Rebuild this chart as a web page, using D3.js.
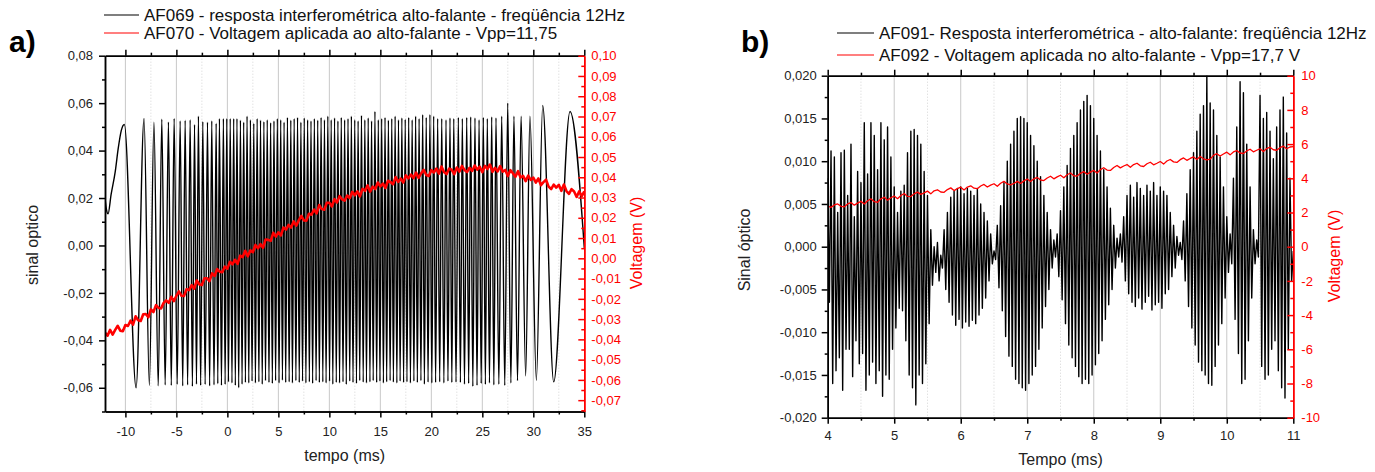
<!DOCTYPE html>
<html>
<head>
<meta charset="utf-8">
<script src="https://cdn.jsdelivr.net/npm/d3@7"></script>
<style>
body { margin: 0; background: #fff; }
svg text { font-family: "Liberation Sans", Arial, sans-serif; }
</style>
</head>
<body>
<svg id="chart" width="1375" height="472"></svg>
<script>
// ---------- painel a) ----------
// extremos do sinal interferometrico AF069 [tempo ms, sinal]
var sinalA = [
  [-12.00, 0.0200], [-11.85, 0.0150], [-11.70, 0.0133], [-11.40, 0.0215], [-11.00, 0.0310], [-10.70, 0.0410], [-10.40, 0.0485], [-10.10, 0.0510],
  [-8.95, -0.0600], [-8.17, 0.0535], [-7.65, -0.0590], [-7.20, 0.0520], [-6.78, -0.0592], [-6.43, 0.0532], [-6.10, -0.0588], [-5.78, 0.0520],
  [-5.50, -0.0590], [-5.22, 0.0535], [-4.92, -0.0585], [-4.63, 0.0525], [-4.38, -0.0592], [-4.14, 0.0528], [-3.90, -0.0588], [-3.65, 0.0530],
  [-3.43, -0.0594], [-3.22, 0.0510], [-3.03, -0.0585], [-2.84, 0.0545], [-2.62, -0.0590], [-2.41, 0.0522], [-2.18, -0.0586], [-1.95, 0.0520],
  [-1.74, -0.0592], [-1.53, 0.0525], [-1.31, -0.0588], [-1.10, 0.0515], [-0.94, -0.0583], [-0.78, 0.0535], [-0.58, -0.0590], [-0.39, 0.0535],
  [-0.22, -0.0586], [-0.06, 0.0535], [0.11, -0.0575], [0.28, 0.0535], [0.45, -0.0580], [0.62, 0.0535], [0.78, -0.0590], [0.94, 0.0535],
  [1.11, -0.0600], [1.28, 0.0528], [1.44, -0.0585], [1.60, 0.0520], [1.77, -0.0578], [1.93, 0.0545], [2.10, -0.0580], [2.26, 0.0530],
  [2.42, -0.0572], [2.59, 0.0515], [2.75, -0.0580], [2.92, 0.0535], [3.09, -0.0575], [3.25, 0.0528], [3.42, -0.0585], [3.58, 0.0522],
  [3.74, -0.0570], [3.91, 0.0530], [4.08, -0.0578], [4.24, 0.0518], [4.41, -0.0582], [4.57, 0.0525], [4.73, -0.0570], [4.90, 0.0535],
  [5.07, -0.0580], [5.23, 0.0530], [5.40, -0.0568], [5.56, 0.0520], [5.72, -0.0578], [5.89, 0.0540], [6.06, -0.0575], [6.22, 0.0528],
  [6.38, -0.0580], [6.55, 0.0535], [6.72, -0.0570], [6.88, 0.0540], [7.05, -0.0578], [7.21, 0.0520], [7.37, -0.0572], [7.54, 0.0538],
  [7.70, -0.0580], [7.87, 0.0530], [8.04, -0.0575], [8.20, 0.0525], [8.36, -0.0582], [8.53, 0.0535], [8.70, -0.0570], [8.86, 0.0528],
  [9.02, -0.0578], [9.19, 0.0540], [9.36, -0.0575], [9.52, 0.0530], [9.68, -0.0580], [9.85, 0.0545], [10.02, -0.0572], [10.18, 0.0530],
  [10.34, -0.0585], [10.51, 0.0538], [10.68, -0.0578], [10.84, 0.0525], [11.00, -0.0580], [11.17, 0.0540], [11.34, -0.0575], [11.50, 0.0530],
  [11.66, -0.0586], [11.83, 0.0535], [12.00, -0.0572], [12.16, 0.0545], [12.32, -0.0578], [12.49, 0.0530], [12.66, -0.0582], [12.82, 0.0525],
  [12.98, -0.0570], [13.15, 0.0548], [13.32, -0.0576], [13.48, 0.0530], [13.64, -0.0580], [13.81, 0.0538], [13.98, -0.0575], [14.14, 0.0525],
  [14.30, -0.0570], [14.47, 0.0565], [14.64, -0.0578], [14.80, 0.0530], [14.96, -0.0572], [15.13, 0.0535], [15.30, -0.0580], [15.46, 0.0540],
  [15.62, -0.0575], [15.79, 0.0528], [15.96, -0.0570], [16.12, 0.0535], [16.28, -0.0576], [16.45, 0.0545], [16.62, -0.0580], [16.78, 0.0530],
  [16.94, -0.0572], [17.11, 0.0538], [17.28, -0.0578], [17.44, 0.0532], [17.61, -0.0575], [17.78, 0.0540], [17.95, -0.0580], [18.12, 0.0530],
  [18.29, -0.0572], [18.46, 0.0545], [18.63, -0.0578], [18.80, 0.0535], [18.98, -0.0570], [19.15, 0.0552], [19.32, -0.0585], [19.50, 0.0540],
  [19.68, -0.0576], [19.86, 0.0552], [20.05, -0.0580], [20.23, 0.0545], [20.42, -0.0578], [20.62, 0.0535], [20.82, -0.0575], [21.02, 0.0535],
  [21.23, -0.0580], [21.44, 0.0530], [21.63, -0.0572], [21.83, 0.0538], [22.01, -0.0578], [22.20, 0.0535], [22.42, -0.0576], [22.65, 0.0540],
  [22.85, -0.0578], [23.04, 0.0535], [23.25, -0.0585], [23.47, 0.0540], [23.66, -0.0582], [23.86, 0.0542], [24.07, -0.0594], [24.28, 0.0538],
  [24.48, -0.0590], [24.68, 0.0530], [24.89, -0.0582], [25.10, 0.0540], [25.30, -0.0586], [25.49, 0.0535], [25.70, -0.0580], [25.92, 0.0542],
  [26.13, -0.0588], [26.34, 0.0538], [26.62, -0.0585], [26.90, 0.0545], [27.20, -0.0590], [27.49, 0.0600], [27.80, -0.0580], [28.10, 0.0545],
  [28.45, -0.0570], [28.80, 0.0545], [29.25, -0.0550], [29.67, 0.0545], [30.30, -0.0568], [30.92, 0.0590], [32.00, -0.0575], [33.60, 0.0565],
  [35.00, -0.0010]
];

// voltagem AF070 (V), amostras a cada 0,25 ms a partir de -12 ms
var voltA_t0 = -12, voltA_dt = 0.25;
var voltA = [
  -0.0367, -0.0382, -0.0353, -0.0377, -0.0353, -0.0333, -0.0357, -0.0360, -0.0329, -0.0334, -0.0308, -0.0327,
  -0.0286, -0.0306, -0.0309, -0.0276, -0.0275, -0.0291, -0.0252, -0.0265, -0.0231, -0.0245, -0.0247, -0.0220,
  -0.0208, -0.0220, -0.0190, -0.0211, -0.0185, -0.0163, -0.0185, -0.0186, -0.0152, -0.0157, -0.0132, -0.0150,
  -0.0109, -0.0129, -0.0132, -0.0098, -0.0098, -0.0113, -0.0074, -0.0087, -0.0053, -0.0066, -0.0069, -0.0041,
  -0.0051, -0.0017, -0.0030, -0.0007, -0.0027, 0.0013, 0.0006, 0.0037, 0.0010, 0.0039, 0.0030, 0.0066,
  0.0050, 0.0070, 0.0052, 0.0093, 0.0091, 0.0086, 0.0126, 0.0107, 0.0128, 0.0113, 0.0152, 0.0142,
  0.0165, 0.0152, 0.0182, 0.0161, 0.0187, 0.0210, 0.0187, 0.0186, 0.0220, 0.0215, 0.0241, 0.0222,
  0.0263, 0.0243, 0.0240, 0.0274, 0.0274, 0.0256, 0.0292, 0.0276, 0.0307, 0.0291, 0.0285, 0.0310,
  0.0297, 0.0328, 0.0311, 0.0330, 0.0306, 0.0343, 0.0333, 0.0360, 0.0329, 0.0354, 0.0342, 0.0374,
  0.0355, 0.0369, 0.0347, 0.0383, 0.0376, 0.0366, 0.0401, 0.0377, 0.0393, 0.0374, 0.0409, 0.0395,
  0.0413, 0.0396, 0.0423, 0.0397, 0.0419, 0.0437, 0.0411, 0.0406, 0.0435, 0.0424, 0.0443, 0.0418,
  0.0453, 0.0425, 0.0416, 0.0443, 0.0437, 0.0415, 0.0448, 0.0428, 0.0456, 0.0436, 0.0426, 0.0447,
  0.0431, 0.0458, 0.0438, 0.0452, 0.0425, 0.0456, 0.0441, 0.0463, 0.0427, 0.0447, 0.0429, 0.0455,
  0.0428, 0.0436, 0.0406, 0.0435, 0.0420, 0.0403, 0.0430, 0.0399, 0.0407, 0.0381, 0.0408, 0.0387,
  0.0398, 0.0374, 0.0394, 0.0361, 0.0376, 0.0388, 0.0354, 0.0342, 0.0364, 0.0349, 0.0363, 0.0333,
  0.0364, 0.0332, 0.0318, 0.0341, 0.0330, 0.0303, 0.0331, 0.0307, 0.0330
];

var xTicksA = [-10, -5, 0, 5, 10, 15, 20, 25, 30, 35];
var xMinorA = [-7.5, -2.5, 2.5, 7.5, 12.5, 17.5, 22.5, 27.5, 32.5];
var gridA = [-10, -5, 0, 5, 10, 15, 20, 25, 30];
var yTicksA = [-0.06, -0.04, -0.02, 0, 0.02, 0.04, 0.06, 0.08];
var yMinorA = [-0.07, -0.05, -0.03, -0.01, 0.01, 0.03, 0.05, 0.07];
var y2TicksA = [-0.07, -0.06, -0.05, -0.04, -0.03, -0.02, -0.01, 0, 0.01, 0.02, 0.03, 0.04, 0.05, 0.06, 0.07, 0.08, 0.09, 0.10];
var y2MinorA = [-0.075, -0.065, -0.055, -0.045, -0.035, -0.025, -0.015, -0.005, 0.005, 0.015, 0.025, 0.035, 0.045, 0.055, 0.065, 0.075, 0.085, 0.095];

// ---------- painel b) ----------
// AF091: sinal optico, extremos a cada 0,025 ms a partir de 4 ms
var sinalB_t0 = 4, sinalB_dt = 0.025;
var sinalB = [
  0.0080, -0.0065, 0.0112, -0.0160,   0.0105, -0.0145, 0.0040, -0.0130,   0.0110, -0.0168, 0.0113, -0.0120,
  0.0060, -0.0120, 0.0120, -0.0152,   0.0035, -0.0110, 0.0088, -0.0137,   0.0075, -0.0125, 0.0145, -0.0168,
  0.0085, -0.0150, 0.0145, -0.0135,   0.0130, -0.0160, 0.0090, -0.0145,   0.0145, -0.0175, 0.0125, -0.0150,
  0.0140, -0.0155, 0.0105, -0.0120,   0.0070, -0.0095, 0.0040, -0.0072,   0.0065, -0.0075, 0.0072, -0.0110,
  0.0110, -0.0150, 0.0135, -0.0165,   0.0137, -0.0185, 0.0130, -0.0150,   0.0120, -0.0160, 0.0088, -0.0137,
  0.0060, -0.0090, 0.0020, -0.0045,   0.0000, -0.0030, 0.0005, -0.0040,  -0.0010, -0.0025, 0.0020, -0.0050,
  0.0040, -0.0065, 0.0058, -0.0080,   0.0065, -0.0092, 0.0068, -0.0085,   0.0070, -0.0095, 0.0062, -0.0088,
  0.0068, -0.0093, 0.0065, -0.0086,   0.0060, -0.0090, 0.0068, -0.0080,   0.0050, -0.0072, 0.0040, -0.0060,
  0.0030, -0.0040, 0.0015, -0.0020,  -0.0005, -0.0015, 0.0025, -0.0048,   0.0048, -0.0075, 0.0075, -0.0105,
  0.0100, -0.0128, 0.0120, -0.0140,   0.0135, -0.0155, 0.0150, -0.0160,   0.0152, -0.0165, 0.0150, -0.0168,
  0.0145, -0.0160, 0.0130, -0.0150,   0.0118, -0.0140, 0.0100, -0.0120,   0.0082, -0.0095, 0.0060, -0.0070,
  0.0040, -0.0050, 0.0020, -0.0025,   0.0008, -0.0012, 0.0015, -0.0035,   0.0042, -0.0062, 0.0070, -0.0090,
  0.0095, -0.0115, 0.0115, -0.0130,   0.0130, -0.0140, 0.0145, -0.0152,   0.0160, -0.0160, 0.0170, -0.0155,
  0.0177, -0.0160, 0.0165, -0.0150,   0.0150, -0.0138, 0.0130, -0.0125,   0.0112, -0.0110, 0.0090, -0.0085,
  0.0070, -0.0068, 0.0045, -0.0050,   0.0025, -0.0025, 0.0010, -0.0012,   0.0015, -0.0018, 0.0035, -0.0040,
  0.0060, -0.0055, 0.0072, -0.0065,   0.0058, -0.0070, 0.0075, -0.0060,   0.0068, -0.0073, 0.0060, -0.0065,
  0.0072, -0.0058, 0.0065, -0.0074,   0.0075, -0.0068, 0.0060, -0.0065,   0.0070, -0.0072, 0.0065, -0.0055,
  0.0060, -0.0050, 0.0040, -0.0035,   0.0025, -0.0025, 0.0012, -0.0010,   0.0005, -0.0015, 0.0030, -0.0040,
  0.0062, -0.0070, 0.0090, -0.0095,   0.0110, -0.0115, 0.0135, -0.0135,   0.0155, -0.0145, 0.0165, -0.0150,
  0.0201, -0.0160, 0.0168, -0.0162,   0.0160, -0.0140, 0.0130, -0.0115,   0.0105, -0.0090, 0.0070, -0.0060,
  0.0035, -0.0030, 0.0015, -0.0020,   0.0080, -0.0085, 0.0140, -0.0125,   0.0193, -0.0160, 0.0180, -0.0155,
  0.0120, -0.0110, 0.0070, -0.0060,   0.0020, -0.0020, 0.0008, -0.0012,   0.0177, -0.0140, 0.0150, -0.0155,
  0.0157, -0.0150, 0.0135, -0.0120,   0.0103, -0.0110, 0.0140, -0.0145,   0.0160, -0.0165, 0.0175, -0.0177,
  0.0133, -0.0120, 0.0080, -0.0040,  -0.0005
];

// AF092: voltagem (V), amostras a cada 0,05 ms a partir de 4 ms
var voltB_t0 = 4, voltB_dt = 0.05;
var voltB = [
  2.38, 2.30, 2.44, 2.50, 2.36, 2.33, 2.50, 2.58, 2.43, 2.55,
  2.65, 2.50, 2.69, 2.80, 2.63, 2.60, 2.80, 2.89, 2.72, 2.86,
  2.96, 2.81, 2.99, 3.11, 2.94, 2.93, 3.09, 3.19, 3.06, 3.15,
  3.25, 3.09, 3.27, 3.33, 3.20, 3.18, 3.34, 3.44, 3.28, 3.40,
  3.48, 3.32, 3.49, 3.56, 3.42, 3.39, 3.55, 3.64, 3.49, 3.60,
  3.68, 3.53, 3.71, 3.82, 3.67, 3.62, 3.70, 3.82, 3.70, 3.85,
  3.96, 3.81, 3.97, 4.05, 3.90, 3.87, 4.02, 4.12, 3.97, 4.08,
  4.18, 4.03, 4.21, 4.31, 4.15, 4.13, 4.29, 4.39, 4.24, 4.36,
  4.46, 4.31, 4.51, 4.62, 4.48, 4.46, 4.63, 4.75, 4.61, 4.72,
  4.80, 4.64, 4.80, 4.88, 4.73, 4.69, 4.85, 4.94, 4.79, 4.88,
  4.98, 4.83, 5.01, 5.10, 4.96, 4.93, 5.09, 5.19, 5.05, 5.16,
  5.25, 5.10, 5.28, 5.14, 5.08, 5.12, 5.34, 5.44, 5.30, 5.42,
  5.53, 5.37, 5.54, 5.62, 5.48, 5.45, 5.60, 5.70, 5.55, 5.64,
  5.73, 5.57, 5.74, 5.82, 5.67, 5.64, 5.79, 5.88, 5.73, 5.83,
  5.85
];

var xTicksB = [4, 5, 6, 7, 8, 9, 10, 11];
var xMinorB = [4.5, 5.5, 6.5, 7.5, 8.5, 9.5, 10.5];
var gridB = [5, 6, 7, 8, 9, 10];
var yTicksB = [-0.02, -0.015, -0.01, -0.005, 0, 0.005, 0.01, 0.015, 0.02];
var yMinorB = [-0.0175, -0.0125, -0.0075, -0.0025, 0.0025, 0.0075, 0.0125, 0.0175];
var y2TicksB = [-10, -8, -6, -4, -2, 0, 2, 4, 6, 8, 10];
var y2MinorB = [-9, -7, -5, -3, -1, 1, 3, 5, 7, 9];

var svg = d3.select("#chart");
var loc = d3.formatLocale({decimal: ",", thousands: ".", grouping: [3], currency: ["", ""], minus: "-"});
var FONT = "Liberation Sans, Arial, sans-serif";

function amostras(vals, t0, dt) {
  return vals.map(function (v, i) { return [t0 + i * dt, v]; });
}

function eixo(g, gen, tr, cor) {
  var a = g.append("g").attr("transform", tr).call(gen)
    .attr("font-family", FONT).attr("font-size", 13);
  a.select(".domain").attr("stroke", cor).attr("stroke-width", 1.5);
  a.selectAll(".tick line").attr("stroke", cor).attr("stroke-width", 1.5);
  a.selectAll(".tick text").attr("fill", cor === "#000" ? "#222" : cor);
  return a;
}

function painel(p) {
  var g = svg.append("g");
  var x = d3.scaleLinear().domain(p.xDom).range([p.left, p.right]);
  var y = d3.scaleLinear().domain(p.yDom).range([p.bottom, p.top]);
  var y2 = d3.scaleLinear().domain(p.y2Dom).range([p.bottom, p.top]);

  // grade vertical
  g.selectAll(null).data(p.xMinor).enter().append("line")
    .attr("x1", x).attr("x2", x).attr("y1", p.top).attr("y2", p.bottom)
    .attr("stroke", "#d4d4d4").attr("stroke-width", 1).attr("stroke-dasharray", "1,2");
  g.selectAll(null).data(p.grid).enter().append("line")
    .attr("x1", x).attr("x2", x).attr("y1", p.top).attr("y2", p.bottom)
    .attr("stroke", "#c8c8c8").attr("stroke-width", 1);

  svg.append("clipPath").attr("id", "clip" + p.id).append("rect")
    .attr("x", p.left).attr("y", p.top).attr("width", p.right - p.left).attr("height", p.bottom - p.top);
  var dg = g.append("g").attr("clip-path", "url(#clip" + p.id + ")");

  var linhaS = d3.line().x(function (d) { return x(d[0]); }).y(function (d) { return y(d[1]); }).curve(p.curva);
  var linhaV = d3.line().x(function (d) { return x(d[0]); }).y(function (d) { return y2(d[1]); });

  dg.append("path").datum(p.sinal).attr("d", linhaS)
    .attr("fill", "none").attr("stroke", "#000").attr("stroke-width", p.wSinal).attr("stroke-linejoin", "round");
  dg.append("path").datum(p.volt).attr("d", linhaV)
    .attr("fill", "none").attr("stroke", "#ff0000").attr("stroke-width", p.wVolt).attr("stroke-linejoin", "round");

  // eixos
  var bot = "translate(0," + p.bottom + ")", top = "translate(0," + p.top + ")";
  var esq = "translate(" + p.left + ",0)", dir = "translate(" + p.right + ",0)";
  eixo(g, d3.axisBottom(x).tickValues(p.xMinor).tickSize(3).tickSizeOuter(0).tickFormat(""), bot, "#000");
  eixo(g, d3.axisBottom(x).tickValues(p.xTicks).tickSize(6).tickSizeOuter(0).tickPadding(p.padX).tickFormat(loc.format("d")), bot, "#000");
  eixo(g, d3.axisTop(x).tickValues(p.xMinor).tickSize(3).tickSizeOuter(0).tickFormat(""), top, "#000");
  eixo(g, d3.axisTop(x).tickValues(p.xTicks).tickSize(6).tickSizeOuter(0).tickFormat(""), top, "#000");
  eixo(g, d3.axisLeft(y).tickValues(p.yMinor).tickSize(3).tickSizeOuter(0).tickFormat(""), esq, "#000");
  eixo(g, d3.axisLeft(y).tickValues(p.yTicks).tickSize(6).tickSizeOuter(0).tickPadding(p.padY).tickFormat(loc.format(p.fmtY)), esq, "#000");
  eixo(g, d3.axisRight(y2).tickValues(p.y2Minor).tickSizeInner(-3).tickSizeOuter(0).tickFormat(""), dir, "#ff0000");
  eixo(g, d3.axisRight(y2).tickValues(p.y2Ticks).tickSizeInner(-6).tickSizeOuter(0).tickPadding(p.padY2).tickFormat(loc.format(p.fmtY2)), dir, "#ff0000");

  // titulos
  svg.append("text").attr("x", (p.left + p.right) / 2).attr("y", p.tituloXy)
    .attr("text-anchor", "middle").attr("font-size", 16).attr("fill", "#222").text(p.tituloX);
  svg.append("text").attr("transform", "translate(" + p.tituloYx + "," + p.tituloYy + ") rotate(-90)")
    .attr("text-anchor", "middle").attr("font-size", 16).attr("fill", "#222").text(p.tituloY);
  svg.append("text").attr("transform", "translate(" + p.tituloY2x + "," + p.tituloY2y + ") rotate(-90)")
    .attr("text-anchor", "middle").attr("font-size", 16).attr("fill", "#ff0000").text(p.tituloY2);
  svg.append("text").attr("x", p.rotX).attr("y", 52).attr("font-size", 30).attr("font-weight", "bold")
    .attr("fill", "#000").text(p.rotulo);

  // legenda
  p.legenda.forEach(function (l, i) {
    var ly = p.legY + i * p.legDy;
    svg.append("line").attr("x1", p.legX).attr("x2", p.legX + p.legW).attr("y1", ly).attr("y2", ly)
      .attr("stroke", l.cor).attr("stroke-width", 1.2);
    svg.append("text").attr("x", p.legX + p.legW + 5).attr("y", ly + 6).attr("font-size", 17)
      .attr("fill", "#111").text(l.texto);
  });
}

painel({
  id: "A", left: 105, right: 584.3, top: 55.7, bottom: 411.5,
  xDom: [-12, 35], yDom: [-0.07, 0.08], y2Dom: [-0.0756, 0.10],
  xTicks: xTicksA, xMinor: xMinorA, grid: gridA,
  yTicks: yTicksA, yMinor: yMinorA, y2Ticks: y2TicksA, y2Minor: y2MinorA,
  fmtY: ".2f", fmtY2: ".2f", padX: 9, padY: 6, padY2: 7,
  sinal: sinalA, volt: amostras(voltA, voltA_t0, voltA_dt),
  curva: d3.curveMonotoneX, wSinal: 1.4, wVolt: 2.6,
  tituloX: "tempo (ms)", tituloXy: 461,
  tituloY: "sinal optico", tituloYx: 38, tituloYy: 245,
  tituloY2: "Voltagem (V)", tituloY2x: 642, tituloY2y: 243,
  rotulo: "a)", rotX: 9,
  legX: 104, legW: 35, legY: 15, legDy: 18,
  legenda: [
    {cor: "#000", texto: "AF069 - resposta interferométrica alto-falante - freqüência 12Hz"},
    {cor: "#ff0000", texto: "AF070 - Voltagem aplicada ao alto-falante - Vpp=11,75"}
  ]
});

painel({
  id: "B", left: 827.7, right: 1293.3, top: 75.7, bottom: 417.7,
  xDom: [4, 11], yDom: [-0.02, 0.02], y2Dom: [-10, 10],
  xTicks: xTicksB, xMinor: xMinorB, grid: gridB,
  yTicks: yTicksB, yMinor: yMinorB, y2Ticks: y2TicksB, y2Minor: y2MinorB,
  fmtY: ".3f", fmtY2: "d", padX: 7, padY: 5, padY2: 8,
  sinal: amostras(sinalB, sinalB_t0, sinalB_dt), volt: amostras(voltB, voltB_t0, voltB_dt),
  curva: d3.curveLinear, wSinal: 1.4, wVolt: 1.3,
  tituloX: "Tempo (ms)", tituloXy: 465,
  tituloY: "Sinal óptico", tituloYx: 750, tituloYy: 250,
  tituloY2: "Voltagem (V)", tituloY2x: 1340, tituloY2y: 256,
  rotulo: "b)", rotX: 741,
  legX: 837, legW: 37, legY: 33, legDy: 22,
  legenda: [
    {cor: "#000", texto: "AF091- Resposta interferométrica - alto-falante: freqüência 12Hz"},
    {cor: "#ff0000", texto: "AF092 - Voltagem aplicada no alto-falante - Vpp=17,7 V"}
  ]
});
</script>
</body>
</html>
